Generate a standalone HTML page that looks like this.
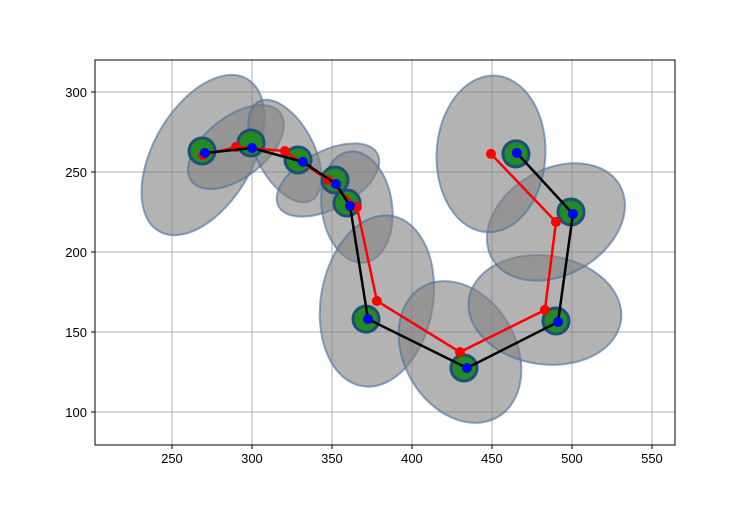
<!DOCTYPE html>
<html><head><meta charset="utf-8"><style>
body{margin:0;background:#fff;}
svg text{font-family:"Liberation Sans",sans-serif;font-size:13px;fill:#000;}
</style></head><body>
<svg id="chart" width="750" height="500" xmlns="http://www.w3.org/2000/svg"></svg>
<script>
const xTicks=[250,300,350,400,450,500,550];
const yTicks=[100,150,200,250,300];
const truthX=[270.6,300,331.9,352.5,361.3,372.5,434.4,491.3,500.6,465.6];
const truthY=[261.9,265,256.3,242.5,228.8,158.1,127.5,156.3,223.8,261.9];
const measX=[268.8,299.4,328.8,351.9,359.4,371.3,432.5,490,499.4,465];
const measY=[263.1,268.1,257.5,245,230.6,158.1,127.5,156.9,225,261.3];
const estX=[269.4,290,320.6,347.5,365.6,378.1,430,483.1,490,449.4];
const estY=[260.6,265.6,263.1,245,228.1,169.4,137.5,163.8,218.8,261.3];
const ellA=[55,35,35,35,22,35,35,48,46,34];
const ellB=[31,19,18,18,35,54,47,34,33,49];
const ellAng=[-60,-38,62,-28,-8,10,-30,8,-30,3];

const L=95,R=675,T=60,B=445,xmin=201.9,xmax=564.4,ymin=79.4,ymax=320;
const sx=v=>L+(v-xmin)/(xmax-xmin)*(R-L);
const sy=v=>B-(v-ymin)/(ymax-ymin)*(B-T);
const k=(R-L)/(xmax-xmin);
const svg=document.getElementById('chart');
const NS='http://www.w3.org/2000/svg';
function mk(t,a,p){const e=document.createElementNS(NS,t);for(const q in a)e.setAttribute(q,a[q]);(p||svg).appendChild(e);return e;}

const grid=mk('g',{});


xTicks.forEach(v=>{const x=sx(v);
 const l=mk('line',{x1:x,x2:x,y1:T,y2:B,stroke:'#b0b0b0','stroke-width':1},grid);
 
 const tk=mk('line',{x1:x,x2:x,y1:B,y2:B+4,stroke:'#000'});
 
 const t=mk('text',{x:x,y:B+18,'text-anchor':'middle'});t.textContent=v;
 });
yTicks.forEach(v=>{const y=sy(v);
 const l=mk('line',{x1:L,x2:R,y1:y,y2:y,stroke:'#b0b0b0','stroke-width':1},grid);
 
 const tk=mk('line',{x1:L-4,x2:L,y1:y,y2:y,stroke:'#000'});
 
 const t=mk('text',{x:L-8,y:y+5,'text-anchor':'end'});t.textContent=v;
 });

estX.forEach((v,i)=>{
 const e=mk('ellipse',{cx:0,cy:0,rx:ellA[i]*k,ry:ellB[i]*k,fill:'rgb(128,128,128)','fill-opacity':0.6,stroke:'rgb(70,110,160)','stroke-opacity':0.6,'stroke-width':2,transform:`translate(${sx(v)},${sy(estY[i])}) rotate(${ellAng[i]})`});
 });

measX.forEach((v,i)=>{
 const c=mk('circle',{cx:sx(v),cy:sy(measY[i]),r:13,fill:'#228b22',stroke:'#1f4e79','stroke-width':3});
 });

const rp=mk('polyline',{points:estX.map((v,i)=>sx(v)+','+sy(estY[i])).join(' '),fill:'none',stroke:'red','stroke-width':2.5});

estX.forEach((v,i)=>{const c=mk('circle',{cx:sx(v),cy:sy(estY[i]),r:5,fill:'red'});
 });
const bp=mk('polyline',{points:truthX.map((v,i)=>sx(v)+','+sy(truthY[i])).join(' '),fill:'none',stroke:'#000','stroke-width':2.5});

truthX.forEach((v,i)=>{const c=mk('circle',{cx:sx(v),cy:sy(truthY[i]),r:5,fill:'blue'});
 });

const fr=mk('rect',{x:L,y:T,width:R-L,height:B-T,fill:'none',stroke:'#000','stroke-width':1});

</script>
</body></html>
